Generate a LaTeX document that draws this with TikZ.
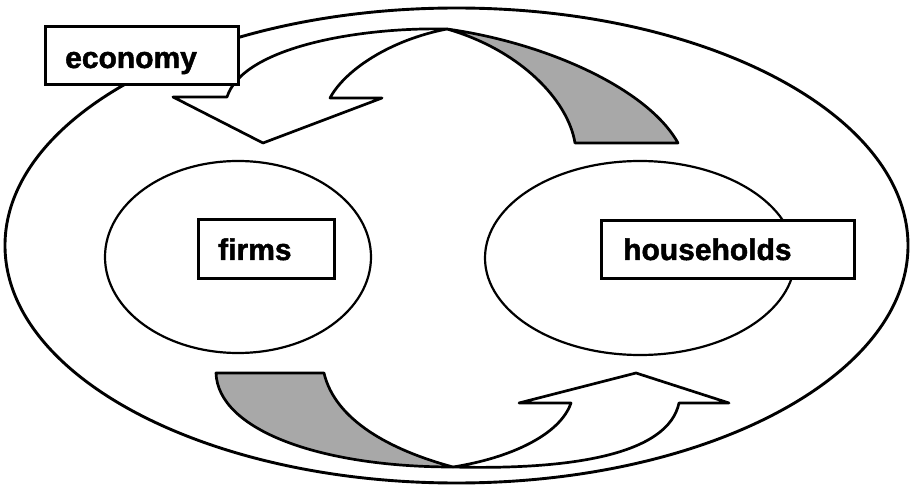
\documentclass[tikz,border=0pt]{standalone}
\usepackage{fontspec}
\setmainfont{Liberation Sans}
\newfontfamily\lblfont{Liberation Sans}[BoldFeatures={FakeBold=1.6}]
\usetikzlibrary{shapes.geometric}
\definecolor{shade}{gray}{0.66}
\tikzset{
  ring/.style={draw, ellipse, line width=2.2pt, inner sep=0pt},
  bigring/.style={draw, ellipse, line width=2.9pt, inner sep=0pt},
  labelbox/.style={draw, fill=white, line width=2.6pt, rectangle, inner sep=0pt, anchor=north west},
  lbl/.style={font=\lblfont\fontsize{30}{36}\selectfont\bfseries, anchor=base west, inner sep=0pt},
  ribbon/.style={draw, line width=2.7pt, line join=round},
  backpart/.style={ribbon, fill=shade},
  frontpart/.style={ribbon, fill=white}
}
\begin{document}
\begin{tikzpicture}[x=1pt,y=-1pt]
\useasboundingbox (0,0) rectangle (911,489);
% outer economy ellipse
\node[bigring, minimum width=903, minimum height=475] (econring) at (456.5,245.5) {};
% top curved arrow
\draw[backpart] (447,29) .. controls (547,43) and (648,89) .. (678,143)
  -- (575,143) .. controls (568,100) and (520,50) .. (447,29) -- cycle;
\draw[frontpart] (447,29) .. controls (360,27) and (243,47) .. (227,97)
  -- (173,97) -- (263,143) -- (382,98) -- (330,98)
  .. controls (345,70) and (390,40) .. (447,29) -- cycle;
% bottom curved arrow
\draw[backpart] (216,373) -- (324,373) .. controls (335,420) and (390,450) .. (453,467)
  .. controls (320,467) and (218,430) .. (216,373) -- cycle;
\draw[frontpart] (453,467) .. controls (570,470) and (668,455) .. (679,403)
  -- (729,403) -- (636,373) -- (519,403) -- (571,403)
  .. controls (560,435) and (510,458) .. (453,467) -- cycle;
% inner ellipses
\node[ring, minimum width=266, minimum height=192] (firmring) at (238,257) {};
\node[ring, minimum width=310, minimum height=194] (housering) at (640,258) {};
% label boxes
\node[labelbox, minimum width=193, minimum height=58] (econbox) at (44,25) {};
\node[labelbox, minimum width=136, minimum height=59] (firmbox) at (197,218) {};
\node[labelbox, minimum width=253, minimum height=58] (housebox) at (600,219) {};
\node[lbl] (econtext) at (65,68) {economy};
\node[lbl] (firmtext) at (218,260) {firms};
\node[lbl] (housetext) at (623,260) {households};
\end{tikzpicture}
\end{document}
